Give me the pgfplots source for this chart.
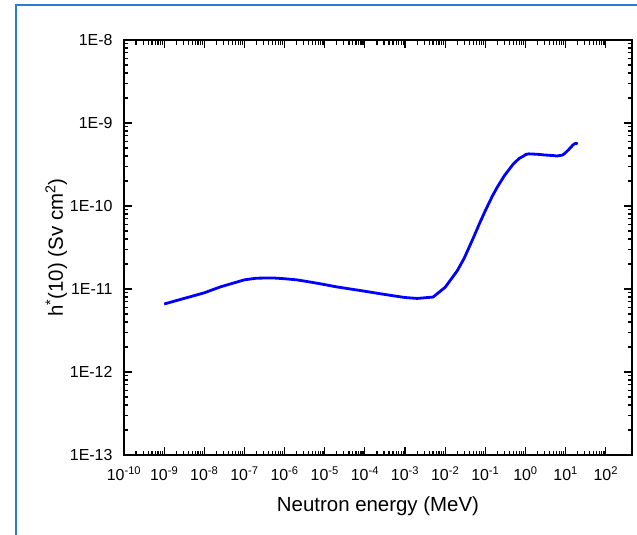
\documentclass[border=0pt]{standalone}
\usepackage{fontspec}
\setmainfont{Liberation Sans}
\usepackage{pgfplots}
\pgfplotsset{compat=1.18}
\definecolor{frameblue}{HTML}{2A7BD1}
\definecolor{curveblue}{HTML}{0000FF}

\begin{document}
\begin{tikzpicture}
\path[use as bounding box] (0,0) rectangle (637bp,535bp);
\draw[frameblue, line width=2bp] (16bp,-2bp) -- (16bp,530bp) -- (640bp,530bp);
\begin{axis}[
  at={(124bp,80bp)}, anchor=south west,
  scale only axis, width=508bp, height=415bp,
  xmode=log, ymode=log,
  xmin=1e-10, xmax=450, ymin=1e-13, ymax=1e-8,
  xtick={1e-10,1e-9,1e-8,1e-7,1e-6,1e-5,1e-4,1e-3,1e-2,1e-1,1,10,100},
  xticklabels={10\textsuperscript{-10},10\textsuperscript{-9},10\textsuperscript{-8},
    10\textsuperscript{-7},10\textsuperscript{-6},10\textsuperscript{-5},
    10\textsuperscript{-4},10\textsuperscript{-3},10\textsuperscript{-2},
    10\textsuperscript{-1},10\textsuperscript{0},10\textsuperscript{1},10\textsuperscript{2}},
  ytick={1e-13,1e-12,1e-11,1e-10,1e-9,1e-8},
  yticklabels={1E-13,1E-12,1E-11,1E-10,1E-9,1E-8},
  ticklabel style={font=\fontsize{16}{19}\selectfont},
  xticklabel style={yshift=-8bp},
  yticklabel style={xshift=-8bp},
  label style={font=\fontsize{20.5}{24}\selectfont},
  axis line style={line width=1.4bp},
  tick style={black, line width=1.2bp},
  tick align=inside,
  major tick length=8bp, minor tick length=4.5bp,
  xlabel={Neutron energy (MeV)},
  ylabel={h\textsuperscript{*}(10) (Sv cm\textsuperscript{2})},
  xlabel style={yshift=-9bp},
  ylabel style={yshift=-4bp},
]
\addplot[curveblue, line width=2.8bp] coordinates {
(1e-9,6.60e-12) (1e-8,9.00e-12) (2.5e-8,1.06e-11) (1e-7,1.29e-11)
(2e-7,1.35e-11) (5e-7,1.36e-11) (1e-6,1.33e-11) (2e-6,1.29e-11)
(5e-6,1.20e-11) (1e-5,1.13e-11) (2e-5,1.06e-11) (5e-5,9.90e-12)
(1e-4,9.40e-12) (2e-4,8.90e-12) (5e-4,8.30e-12) (1e-3,7.90e-12)
(2e-3,7.70e-12) (5e-3,8.00e-12) (1e-2,1.05e-11) (2e-2,1.66e-11)
(3e-2,2.37e-11) (5e-2,4.11e-11) (7e-2,6.00e-11) (0.1,8.80e-11)
(0.15,1.32e-10) (0.2,1.70e-10) (0.3,2.33e-10) (0.5,3.22e-10)
(0.7,3.75e-10) (0.9,4.00e-10) (1.0,4.16e-10) (1.2,4.25e-10)
(2.0,4.20e-10) (3.0,4.12e-10) (4.0,4.08e-10) (5.0,4.05e-10)
(6.0,4.00e-10) (7.0,4.05e-10) (8.0,4.09e-10) (9.0,4.20e-10)
(10,4.40e-10) (12,4.80e-10) (14,5.20e-10) (15,5.40e-10)
(16,5.55e-10) (18,5.70e-10) (20,5.60e-10)
};
\end{axis}
\end{tikzpicture}
\end{document}
